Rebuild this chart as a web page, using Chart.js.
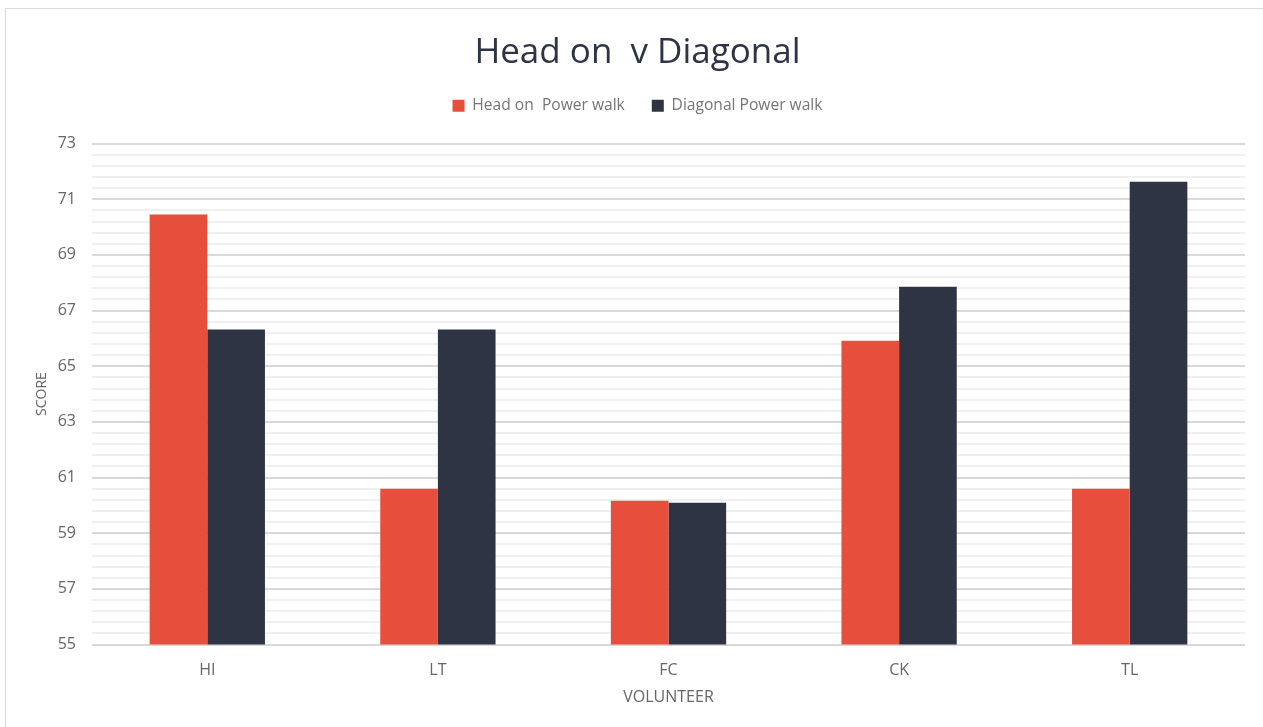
<!DOCTYPE html>
<html>
<head>
<meta charset="utf-8">
<script src="https://cdn.jsdelivr.net/npm/chart.js@4"></script>
<style>
html,body{margin:0;padding:0;background:#fff;overflow:hidden;}
#frame{position:absolute;left:5px;top:8px;width:1270px;height:740px;border:1px solid #d9d9d9;box-sizing:border-box;}
#wrap{position:absolute;left:0;top:0;width:1263px;height:727px;}
</style>
</head>
<body>
<div id="frame"></div>
<div id="wrap"><canvas id="chart"></canvas></div>
<script>
const volunteers = ["HI","LT","FC","CK","TL"];
const headOn = [70.45, 60.6, 60.17, 65.92, 60.6];
const diagonal = [66.32, 66.32, 60.1, 67.86, 71.63];
const yMin = 55, yMax = 73, majorStep = 2, minorStep = 0.4;

const FONT = "'Open Sans', sans-serif";

// give the legend some extra room below its items
const legendGap = {
id:"legendGap",
afterInit(chart){
const lg = chart.legend;
if(!lg) return;
const fit = lg.fit;
lg.fit = function(){ fit.call(this); this.height += 20; };
}
};

new Chart(document.getElementById("chart"),{
type:"bar",
data:{
labels:volunteers,
datasets:[{
label:"Head on  Power walk",
data:headOn,
backgroundColor:"#e74f3d"
},{
label:"Diagonal Power walk",
data:diagonal,
backgroundColor:"#2f3445"
}]
},
plugins:[legendGap],
options:{
responsive:true,
maintainAspectRatio:false,
animation:false,
layout:{padding:{left:30,right:18,top:18,bottom:16}},
plugins:{
title:{
display:true,
text:"Head on  v Diagonal",
color:"#2f3445",
font:{family:FONT,size:35,weight:"normal",lineHeight:1},
padding:{top:18,bottom:0}
},
legend:{
position:"top",
labels:{
color:"#757575",
font:{family:FONT,size:15.6},
boxWidth:12,
boxHeight:12,
padding:27
}
},
tooltip:{enabled:false}
},
scales:{
x:{
grid:{display:false},
border:{display:false},
ticks:{color:"#666",font:{family:FONT,size:16},padding:8},
title:{display:true,text:"VOLUNTEER",color:"#666",font:{family:FONT,size:16},padding:{top:0,bottom:4}}
},
y:{
min:yMin,
max:yMax,
afterBuildTicks:axis=>{
const t=[];
const n=Math.round((yMax-yMin)/minorStep);
for(let i=0;i<=n;i++) t.push({value:Math.round((yMin+i*minorStep)*10)/10});
axis.ticks=t;
},
afterFit:axis=>{ axis.width = 62; },
border:{display:false},
grid:{
color:ctx=>{
const v=ctx.tick ? ctx.tick.value : 0;
return Math.abs(((v-yMin)/majorStep)-Math.round((v-yMin)/majorStep))<1e-6 ? "#d9d9d9" : "#f0f0f0";
},
lineWidth:2,
drawTicks:false
},
ticks:{
autoSkip:false,
color:"#666",
font:{family:FONT,size:16},
padding:16,
callback:v=>{
const k=(v-yMin)/majorStep;
return Math.abs(k-Math.round(k))<1e-6 ? String(Math.round(v)) : "";
}
},
title:{display:true,text:"SCORE",color:"#666",font:{family:FONT,size:14},padding:{top:4,bottom:4}}
}
},
datasets:{bar:{categoryPercentage:0.5,barPercentage:1}}
}
});
</script>
</body>
</html>
